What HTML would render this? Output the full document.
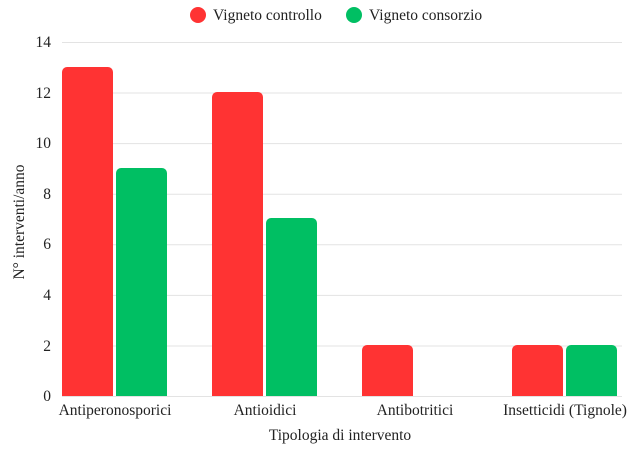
<!DOCTYPE html><html><head><style>body{margin:0;background:#fff}</style></head><body>
<svg width="643" height="449" xmlns="http://www.w3.org/2000/svg" font-family="Liberation Serif, serif" fill="#222">
<g stroke="#e3e3e3" stroke-width="1">
<line x1="62" x2="622" y1="42.5" y2="42.5"/><line x1="62" x2="622" y1="93" y2="93"/><line x1="62" x2="622" y1="143.6" y2="143.6"/><line x1="62" x2="622" y1="194.2" y2="194.2"/><line x1="62" x2="622" y1="244.8" y2="244.8"/><line x1="62" x2="622" y1="295.4" y2="295.4"/><line x1="62" x2="622" y1="346" y2="346"/><line x1="62" x2="622" y1="396.5" y2="396.5"/>
</g>
<g font-size="15.5" text-anchor="end">
<text x="51" y="47">14</text><text x="51" y="98">12</text><text x="51" y="148">10</text><text x="51" y="199">8</text><text x="51" y="249">6</text><text x="51" y="300">4</text><text x="51" y="351">2</text><text x="51" y="401">0</text>
</g>
<g>
<path d="M62,396V72a5,5 0 0 1 5,-5H108a5,5 0 0 1 5,5V396Z" fill="#ff3333"/>
<path d="M116,396V173a5,5 0 0 1 5,-5H162a5,5 0 0 1 5,5V396Z" fill="#00bf63"/>
<path d="M212,396V97a5,5 0 0 1 5,-5H258a5,5 0 0 1 5,5V396Z" fill="#ff3333"/>
<path d="M266,396V223a5,5 0 0 1 5,-5H312a5,5 0 0 1 5,5V396Z" fill="#00bf63"/>
<path d="M362,396V350a5,5 0 0 1 5,-5H408a5,5 0 0 1 5,5V396Z" fill="#ff3333"/>
<path d="M512,396V350a5,5 0 0 1 5,-5H558a5,5 0 0 1 5,5V396Z" fill="#ff3333"/>
<path d="M566,396V350a5,5 0 0 1 5,-5H612a5,5 0 0 1 5,5V396Z" fill="#00bf63"/>
</g>
<g font-size="15.5" text-anchor="middle">
<text x="115" y="415">Antiperonosporici</text><text x="265" y="415">Antioidici</text><text x="415" y="415">Antibotritici</text><text x="565" y="415">Insetticidi (Tignole)</text>
<text x="340" y="440">Tipologia di intervento</text>
<text transform="translate(24,222) rotate(-90)">N° interventi/anno</text>
</g>
<circle cx="198" cy="15" r="8" fill="#ff3333"/><text x="213" y="20" font-size="15.5">Vigneto controllo</text>
<circle cx="354" cy="15" r="8" fill="#00bf63"/><text x="369" y="20" font-size="15.5">Vigneto consorzio</text>
</svg>
</body></html>
